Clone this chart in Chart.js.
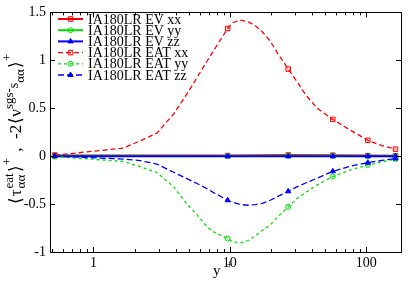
<!DOCTYPE html>
<html lang="en">
<head>
<meta charset="UTF-8">
<script src="https://cdn.jsdelivr.net/npm/chart.js@4.4.1/dist/chart.umd.min.js"></script>
<title>EAT vs EV stress</title>
<style>
  body { margin: 0; background: #fff; }
</style>
</head>
<body>
<canvas id="chart" width="415" height="286"></canvas>
<script>
// values, y+ on a log axis
const yPlus = [0.52, 1.66, 2.2, 2.92, 3.87, 4.85, 5.74, 6.8, 7.6, 9.64, 10.4, 11.9, 13.7,
               15.4, 17.5, 19.8, 22.5, 26.8, 31, 36, 43.7, 56.9, 76.7, 102.8, 130, 164];
const eatXX = [0.01, 0.084, 0.16, 0.24, 0.44, 0.65, 0.82, 0.99, 1.10, 1.332, 1.39, 1.42, 1.40,
               1.36, 1.29, 1.20, 1.07, 0.909, 0.78, 0.64, 0.50, 0.383, 0.27, 0.166, 0.11, 0.073];
const eatYY = [-0.005, -0.055, -0.11, -0.17, -0.32, -0.50, -0.61, -0.736, -0.79, -0.86, -0.89, -0.907, -0.88,
               -0.83, -0.77, -0.718, -0.63, -0.529, -0.443, -0.38, -0.30, -0.213, -0.143, -0.092, -0.06, -0.03];
const eatZZ = [0.0, -0.03, -0.047, -0.082, -0.168, -0.235, -0.285, -0.34, -0.38, -0.46, -0.48, -0.505, -0.512,
               -0.505, -0.49, -0.46, -0.42, -0.367, -0.32, -0.28, -0.23, -0.158, -0.105, -0.068, -0.045, -0.025];

// symbols only sit on every few grid points
const markYPlus = [0.52, 9.64, 26.8, 56.9, 102.8, 164];
const evXX = [0.008, 0.006, 0.012, 0.010, 0.006, 0.004];
const evYY = [0.003, 0.002, 0.004, 0.003, 0.002, 0.001];
const evZZ = [0.0, -0.002, -0.002, -0.002, -0.001, 0.0];

const seriesLabels = ['IA180LR EV xx', 'IA180LR EV yy', 'IA180LR EV zz',
                      'IA180LR EAT xx', 'IA180LR EAT yy', 'IA180LR EAT zz'];

const xMajorTicks = [1, 10, 100];
const xMinorTicks = [0.5, 0.6, 0.7, 0.8, 0.9, 2, 3, 4, 5, 6, 7, 8, 9, 20, 30, 40, 50, 60, 70, 80, 90];
const yTicks = [-1, -0.5, 0, 0.5, 1, 1.5];

const serif = "'Liberation Serif', 'Times New Roman', serif";
const RED = '#ff0000', GREEN = '#00e000', BLUE = '#0000ff';

function pairs(xs, ys) {
  return xs.map((x, i) => ({ x: x, y: ys[i] }));
}
// radius only where a symbol was drawn
function markRadius(r) {
  return ctx => (markYPlus.includes(ctx.raw && ctx.raw.x) ? r : 0);
}

function ds(i, xs, ys, color, fill, style, r, dash, lw) {
  return {
    label: seriesLabels[i],
    data: pairs(xs, ys),
    borderColor: color,
    borderWidth: lw,
    borderDash: dash,
    pointStyle: style,
    pointRadius: markRadius(r),
    pointHoverRadius: markRadius(r),
    pointBorderColor: color,
    pointBackgroundColor: fill,
    pointBorderWidth: 1,
    tension: 0,
    order: -i
  };
}

const datasets = [
  ds(0, markYPlus, evXX, RED, 'rgba(255,0,0,0.2)', 'rect', 3.2, [], 2),
  ds(1, markYPlus, evYY, GREEN, 'rgba(0,224,0,0.2)', 'circle', 2.5, [], 2),
  ds(2, markYPlus, evZZ, BLUE, BLUE, 'triangle', 3, [], 2),
  ds(3, yPlus, eatXX, RED, 'rgba(255,0,0,0.15)', 'rect', 3.2, [5, 3], 1.3),
  ds(4, yPlus, eatYY, GREEN, 'rgba(0,224,0,0.15)', 'circle', 2.5, [3, 3], 1.3),
  ds(5, yPlus, eatZZ, BLUE, BLUE, 'triangle', 3, [6, 3], 1.3)
];

// frame + inward ticks, gnuplot style
const framePlugin = {
  id: 'frame',
  afterDraw(chart) {
    const { ctx, chartArea: a, scales } = chart;
    ctx.save();
    ctx.strokeStyle = '#000';
    ctx.lineWidth = 1;
    ctx.beginPath();
    xMajorTicks.concat(xMinorTicks).forEach(v => {
      const len = xMajorTicks.includes(v) ? 5 : 3;
      const px = Math.round(scales.x.getPixelForValue(v)) + 0.5;
      ctx.moveTo(px, a.bottom); ctx.lineTo(px, a.bottom - len);
      ctx.moveTo(px, a.top); ctx.lineTo(px, a.top + len);
    });
    yTicks.forEach(v => {
      const py = Math.round(scales.y.getPixelForValue(v)) + 0.5;
      ctx.moveTo(a.left, py); ctx.lineTo(a.left + 5, py);
      ctx.moveTo(a.right, py); ctx.lineTo(a.right - 5, py);
    });
    ctx.stroke();
    ctx.strokeRect(Math.round(a.left) + 0.5, Math.round(a.top) + 0.5,
                   Math.round(a.right - a.left), Math.round(a.bottom - a.top));
    ctx.restore();
  }
};

// legend in the top left, line sample with a symbol in the middle
const legendPlugin = {
  id: 'gpLegend',
  afterDraw(chart) {
    const ctx = chart.ctx;
    ctx.save();
    chart.data.datasets.forEach((d, i) => {
      const y = 19 + i * 11.2;
      ctx.strokeStyle = d.borderColor;
      ctx.lineWidth = d.borderWidth;
      ctx.setLineDash(d.borderDash);
      ctx.beginPath();
      ctx.moveTo(58, y); ctx.lineTo(83, y);
      ctx.stroke();
      ctx.setLineDash([]);
      ctx.fillStyle = d.pointBackgroundColor;
      ctx.strokeStyle = d.borderColor;
      ctx.lineWidth = 1;
      const r = d.pointStyle === 'rect' ? 3.2 : (d.pointStyle === 'circle' ? 2.5 : 3);
      Chart.helpers.drawPoint(ctx, { pointStyle: d.pointStyle, rotation: 0, radius: r, borderWidth: 1 }, 70.5, y);
      ctx.fillStyle = '#000';
      ctx.font = '14px ' + serif;
      ctx.textAlign = 'left';
      ctx.textBaseline = 'middle';
      ctx.fillText(d.label, 88, y + 1);
    });
    ctx.restore();
  }
};

// axis titles with sub/superscripts
function layoutPieces(ctx, pieces, draw) {
  let x = 0;
  pieces.forEach(p => {
    x += p.gap || 0;
    if (p.stack) {
      let w = 0;
      p.stack.forEach(s => {
        ctx.font = s.size + 'px ' + serif;
        if (draw) ctx.fillText(s.t, x, s.dy);
        w = Math.max(w, ctx.measureText(s.t).width);
      });
      x += w;
    } else {
      ctx.font = p.size + 'px ' + serif;
      if (draw) ctx.fillText(p.t, x, p.dy);
      x += ctx.measureText(p.t).width;
    }
  });
  return x;
}

const titlePlugin = {
  id: 'titles',
  afterDraw(chart) {
    const ctx = chart.ctx;
    ctx.save();
    ctx.fillStyle = '#000';
    ctx.textAlign = 'left';
    ctx.textBaseline = 'alphabetic';
    // x title
    ctx.font = '15px ' + serif;
    ctx.fillText('y', 213, 275);
    ctx.font = '12px ' + serif;
    ctx.fillText('+', 226, 269);
    // y title, rotated
    const pieces = [
      { t: '\u27e8', size: 17, dy: 0 },
      { t: '\u03c4', size: 17, dy: 0, gap: 1 },
      { stack: [{ t: 'eat', size: 13, dy: -8 }, { t: '\u03b1\u03b1', size: 13, dy: 4 }], gap: 1 },
      { t: '\u27e9', size: 17, dy: 0, gap: 1 },
      { t: '+', size: 13, dy: -10 },
      { t: ' ,  -2', size: 17, dy: 0, gap: 2 },
      { t: '\u27e8', size: 17, dy: 0, gap: 1 },
      { t: '\u03bd', size: 17, dy: 0 },
      { t: 'sgs-', size: 13, dy: -8 },
      { t: 's', size: 14, dy: -3 },
      { t: '\u03b1\u03b1', size: 13, dy: 3 },
      { t: '\u27e9', size: 17, dy: 0, gap: 1 },
      { t: '+', size: 13, dy: -10 }
    ];
    const total = layoutPieces(ctx, pieces, false);
    ctx.translate(21, 129 + total / 2);
    ctx.rotate(-Math.PI / 2);
    layoutPieces(ctx, pieces, true);
    ctx.restore();
  }
};

new Chart(document.getElementById('chart'), {
  type: 'line',
  data: { datasets: datasets },
  options: {
    responsive: false,
    animation: false,
    devicePixelRatio: 1,
    layout: { padding: { top: 10, right: 14, left: 0, bottom: 0 } },
    plugins: { legend: { display: false }, tooltip: { enabled: false } },
    scales: {
      x: {
        type: 'logarithmic',
        min: 0.48,
        max: 180,
        afterFit: s => { s.height = 34; },
        afterBuildTicks: s => {
          s.ticks = xMinorTicks.concat(xMajorTicks).sort((a, b) => a - b)
            .map(v => ({ value: v, major: xMajorTicks.includes(v) }));
        },
        grid: { display: false, drawTicks: false },
        border: { display: false },
        ticks: {
          autoSkip: false,
          maxRotation: 0,
          padding: 3,
          color: '#000',
          font: { family: serif, size: 14 },
          callback: v => (xMajorTicks.includes(v) ? String(v) : '')
        }
      },
      y: {
        min: -1,
        max: 1.5,
        afterFit: s => { s.width = 50; },
        afterBuildTicks: s => { s.ticks = yTicks.map(v => ({ value: v })); },
        grid: {
          drawTicks: false,
          color: c => (c.tick && c.tick.value === 0 ? '#000' : 'rgba(0,0,0,0)'),
          lineWidth: 1
        },
        border: { display: false },
        ticks: {
          padding: 4,
          color: '#000',
          font: { family: serif, size: 14 },
          callback: v => String(v)
        }
      }
    }
  },
  plugins: [framePlugin, legendPlugin, titlePlugin]
});
</script>
</body>
</html>
